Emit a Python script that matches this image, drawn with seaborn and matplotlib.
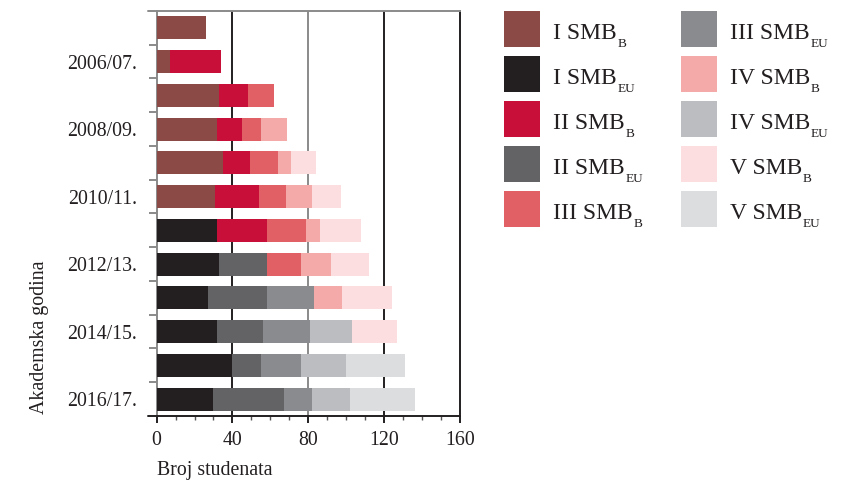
import matplotlib
matplotlib.use('Agg')
import matplotlib.pyplot as plt
import seaborn as sns
import numpy as np
import pandas as pd
from matplotlib.patches import Rectangle
from matplotlib.ticker import MultipleLocator

years = ['2005/06.', '2006/07.', '2007/08.', '2008/09.', '2009/10.', '2010/11.',
         '2011/12.', '2012/13.', '2013/14.', '2014/15.', '2015/16.', '2016/17.']

series_main = ['I SMB', 'I SMB', 'II SMB', 'II SMB', 'III SMB',
               'III SMB', 'IV SMB', 'IV SMB', 'V SMB', 'V SMB']
series_sub = ['B', 'EU', 'B', 'EU', 'B', 'EU', 'B', 'EU', 'B', 'EU']
colors = ['#8B4A45', '#231F20', '#C80F3A', '#636365', '#E06066',
          '#8A8B8E', '#F5AAAA', '#BCBDC0', '#FDDEE0', '#DCDDDF']

I_B    = [26, 7, 33, 32, 35, 31, 0, 0, 0, 0, 0, 0]
I_EU   = [0, 0, 0, 0, 0, 0, 32, 33, 27, 32, 40, 30]
II_B   = [0, 27, 15, 13, 14, 23, 26, 0, 0, 0, 0, 0]
II_EU  = [0, 0, 0, 0, 0, 0, 0, 25, 31, 24, 15, 37]
III_B  = [0, 0, 14, 10, 15, 14, 21, 18, 0, 0, 0, 0]
III_EU = [0, 0, 0, 0, 0, 0, 0, 0, 25, 25, 21, 15]
IV_B   = [0, 0, 0, 14, 7, 14, 7, 16, 15, 0, 0, 0]
IV_EU  = [0, 0, 0, 0, 0, 0, 0, 0, 0, 22, 24, 20]
V_B    = [0, 0, 0, 0, 13, 15, 22, 20, 26, 24, 0, 0]
V_EU   = [0, 0, 0, 0, 0, 0, 0, 0, 0, 0, 31, 34]

series = [I_B, I_EU, II_B, II_EU, III_B, III_EU, IV_B, IV_EU, V_B, V_EU]

sns.set_theme(style='white')
plt.rcParams['font.family'] = ['Liberation Serif', 'DejaVu Serif']
plt.rcParams['text.color'] = '#231F20'
plt.rcParams['axes.labelcolor'] = '#231F20'
plt.rcParams['xtick.color'] = '#231F20'
plt.rcParams['ytick.color'] = '#231F20'

DARK = '#231F20'
GRAY = '#8A8A8A'
FS = 14.3

fig = plt.figure(figsize=(8.41, 4.84), dpi=100)
ax = fig.add_axes([0.1862, 0.1405, 0.3608, 0.8368])

cum = np.cumsum(np.array(series), axis=0)
for i in reversed(range(len(series))):
    df = pd.DataFrame({'year': years, 'value': cum[i]})
    sns.barplot(data=df, x='value', y='year', color=colors[i], orient='h',
                width=0.68, saturation=1, errorbar=None, ax=ax,
                linewidth=0, edgecolor='none', zorder=3)

ax.set_xlim(0, 160)
ax.set_ylim(len(years) - 0.5, -0.5)

# vertical grid lines
for xv, c in [(40, DARK), (80, GRAY), (120, DARK)]:
    ax.axvline(xv, color=c, lw=1.4, zorder=1)

for s in ['left', 'top']:
    ax.spines[s].set_color(GRAY)
    ax.spines[s].set_linewidth(1.4)
for s in ['bottom', 'right']:
    ax.spines[s].set_color(DARK)
    ax.spines[s].set_linewidth(1.4)
ext = -0.0283
ax.plot([ext, 0], [1, 1], transform=ax.transAxes, color=GRAY, lw=1.4, clip_on=False)
ax.plot([ext, 0], [0, 0], transform=ax.transAxes, color=DARK, lw=1.4, clip_on=False)

# x ticks
ax.xaxis.set_major_locator(MultipleLocator(40))
ax.xaxis.set_minor_locator(MultipleLocator(10))
ax.tick_params(axis='x', which='major', bottom=True, length=5, width=1.4,
               color=DARK, labelsize=FS, pad=6)
ax.tick_params(axis='x', which='minor', bottom=True, length=3, width=1.0, color='#555555')

# y ticks: labels every second year, tick marks between rows
ax.set_yticks(range(1, len(years), 2))
ax.set_yticklabels(years[1::2])
ax.set_yticks(np.arange(0.5, len(years) - 0.5, 1), minor=True)
ax.tick_params(axis='y', which='major', left=False, length=0, labelsize=FS, pad=14)
ax.tick_params(axis='y', which='minor', left=True, length=6, width=1.4, color=GRAY)

ax.set_xlabel('Broj studenata', fontsize=FS, loc='left', labelpad=8)
ax.set_ylabel('Akademska godina', fontsize=FS, loc='bottom')
ax.yaxis.set_label_coords(-0.355, 0.005)

# manual legend in two columns, with hand-placed subscripts
W, H = 841, 484
fig.canvas.draw()
rend = fig.canvas.get_renderer()
col_x = [504, 681]
for i, (main, sub, col) in enumerate(zip(series_main, series_sub, colors)):
    c, r = divmod(i, 5)
    x0 = col_x[c]
    top = 11 + 45 * r
    fig.add_artist(Rectangle((x0 / W, 1 - (top + 36) / H), 36 / W, 36 / H,
                             transform=fig.transFigure, facecolor=col,
                             edgecolor='none'))
    base = top + 28
    t = fig.text((x0 + 49) / W, 1 - base / H, main, fontsize=17,
                 ha='left', va='baseline', color=DARK)
    bb = t.get_window_extent(renderer=rend)
    fig.text((bb.x1 + 0.5) / W, 1 - (base + 8) / H, sub, fontsize=9.5,
             ha='left', va='baseline', color=DARK)

fig.savefig('out.png', dpi=100)
